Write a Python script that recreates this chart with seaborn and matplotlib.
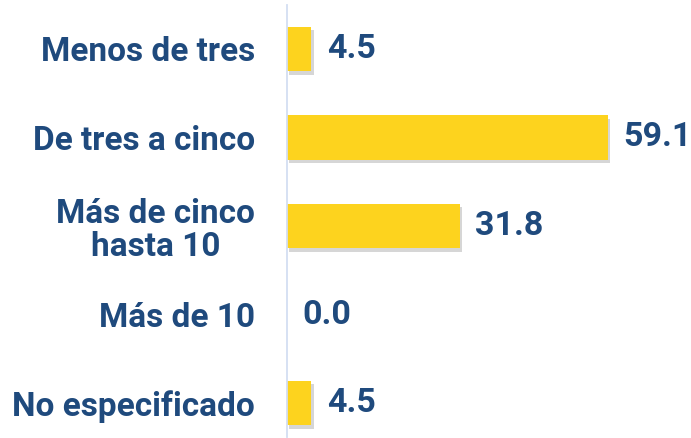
import pandas as pd
import matplotlib
matplotlib.use("Agg")
import matplotlib.pyplot as plt
import matplotlib.patheffects as pe
import seaborn as sns

# Data
categories = ["Menos de tres", "De tres a cinco", "Más de cinco\nhasta 10", "Más de 10", "No especificado"]
values = [4.5, 59.1, 31.8, 0.0, 4.5]

data = pd.DataFrame({"Categoria": categories, "Porcentaje": values})

bar_color = "#FDD31E"
text_color = "#1F4A7D"
axis_color = "#D3DEF2"

sns.set_style("white")
plt.rcParams["font.family"] = ["Roboto", "DejaVu Sans"]

fig = plt.figure(figsize=(6.91, 4.38), dpi=100)
ax = fig.add_axes([287 / 691, 1 - 437 / 438, 1 - 287 / 691, (437 - 5) / 438])

sns.barplot(data=data, y="Categoria", x="Porcentaje", orient="h",
            color=bar_color, saturation=1, width=0.5, ax=ax)

# soft drop shadow on the bars
for p in ax.patches:
    p.set_edgecolor("none")
    p.set_path_effects([pe.SimplePatchShadow(offset=(1.5, -2.5), shadow_rgbFace="#7a7a7a", alpha=0.3),
                        pe.Normal()])

# value labels
for i, v in enumerate(values):
    ax.text(v + 2.9, i, f"{v:.1f}", va="center", ha="left",
            fontsize=24.5, fontweight="bold", color=text_color)

ax.set_xlim(0, (691 - 287) / 5.43)
ax.set_ylim(4.384, -0.497)
ax.set_xlabel("")
ax.set_ylabel("")
ax.set_xticks([])

for s in ["top", "right", "bottom"]:
    ax.spines[s].set_visible(False)
ax.spines["left"].set_color(axis_color)
ax.spines["left"].set_linewidth(1.3)

ax.tick_params(axis="y", length=0, pad=23)
for lbl in ax.get_yticklabels():
    lbl.set_fontsize(24)
    lbl.set_fontweight("bold")
    lbl.set_color(text_color)
    lbl.set_multialignment("center")
    lbl.set_linespacing(1.05)

fig.savefig("out.png", dpi=100, facecolor="white")
